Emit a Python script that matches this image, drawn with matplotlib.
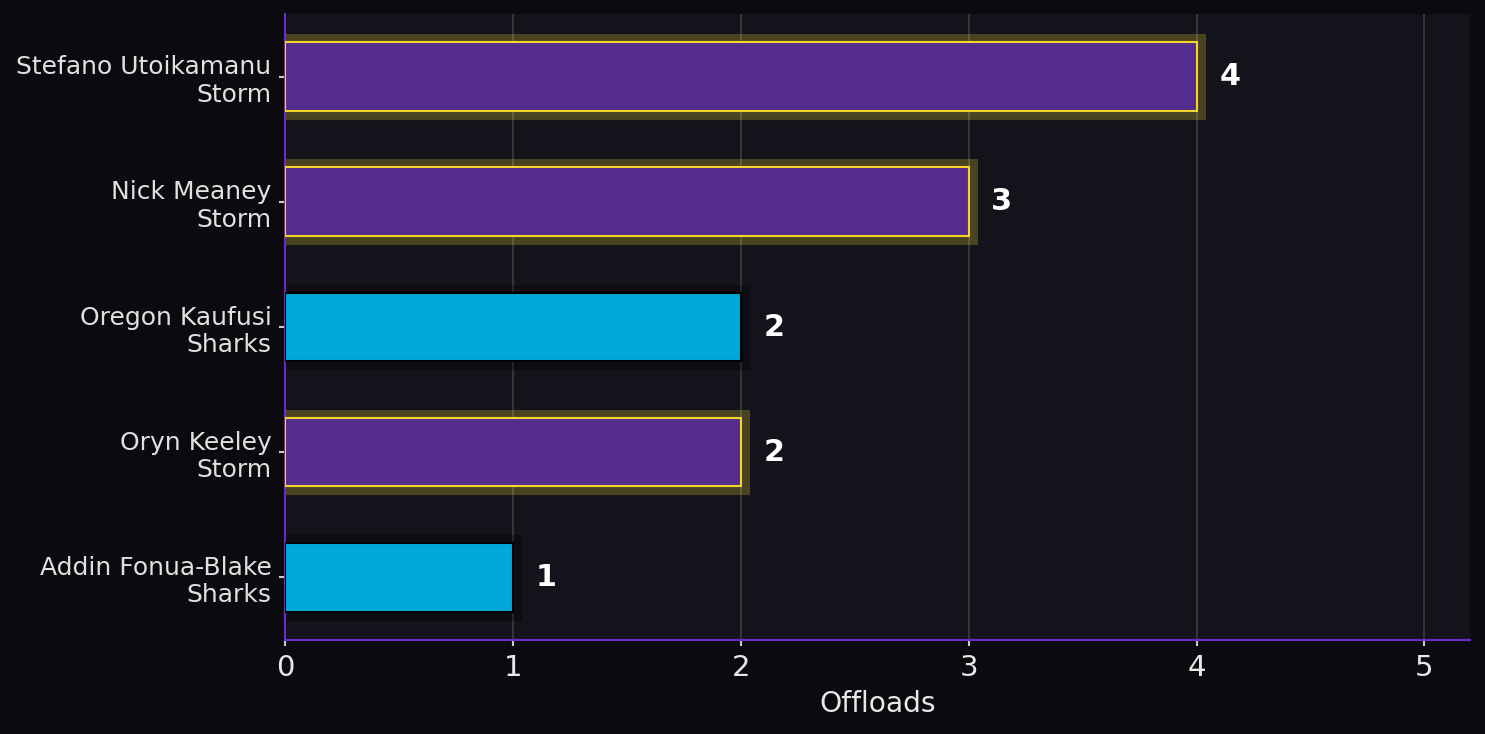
import matplotlib.pyplot as plt
import numpy as np

players = ["Stefano Utoikamanu", "Nick Meaney", "Oregon Kaufusi", "Oryn Keeley", "Addin Fonua-Blake"]
teams = ["Storm", "Storm", "Sharks", "Storm", "Sharks"]
offloads = [4, 3, 2, 2, 1]

team_colors = {"Storm": "#532c8e", "Sharks": "#00a9d8"}
edge_colors = {"Storm": "#f2d42c", "Sharks": "#000000"}
glow_colors = {"Storm": ("#f2d42c", 0.25), "Sharks": ("#000000", 0.3)}

fig = plt.figure(figsize=(9.9, 4.8934), dpi=150, facecolor="#0b0b0f")
ax = fig.add_axes([0.1919, 0.128, 0.798, 0.853])
ax.set_facecolor("#12131b")

labels = [f"{p}\n{t}" for p, t in zip(players, teams)]
y = np.arange(len(players))[::-1]

for yi, val, team in zip(y, offloads, teams):
    gc, ga = glow_colors[team]
    ax.barh(yi, val, height=0.55, color="none", edgecolor=gc, linewidth=8.2, alpha=ga, zorder=2)
    ax.barh(yi, val, height=0.55, color=team_colors[team], edgecolor=edge_colors[team],
            linewidth=1.0, zorder=3)
    ax.text(val + 0.1, yi, str(val), ha="left", va="center", color="white",
            fontsize=14.5, fontweight="bold", zorder=4)

ax.set_yticks(y)
ax.set_yticklabels(labels)
ax.set_xlim(0, 5.2)
ax.set_xticks([0, 1, 2, 3, 4, 5])
ax.set_xlabel("Offloads", color="#e8e8e8", fontsize=13.5)

ax.tick_params(axis="x", colors="#cccccc", labelcolor="#e8e8e8", labelsize=14, length=3, width=1)
ax.tick_params(axis="y", colors="#cccccc", labelcolor="#e0e0e0", labelsize=12, length=3, width=1)

ax.grid(axis="x", color="#ffffff", alpha=0.18, linewidth=0.8, zorder=0)
ax.set_axisbelow(True)

for side in ["top", "right"]:
    ax.spines[side].set_visible(False)
for side in ["left", "bottom"]:
    ax.spines[side].set_color("#6a2bd0")
    ax.spines[side].set_linewidth(1.0)

plt.savefig("out.png", facecolor=fig.get_facecolor())
